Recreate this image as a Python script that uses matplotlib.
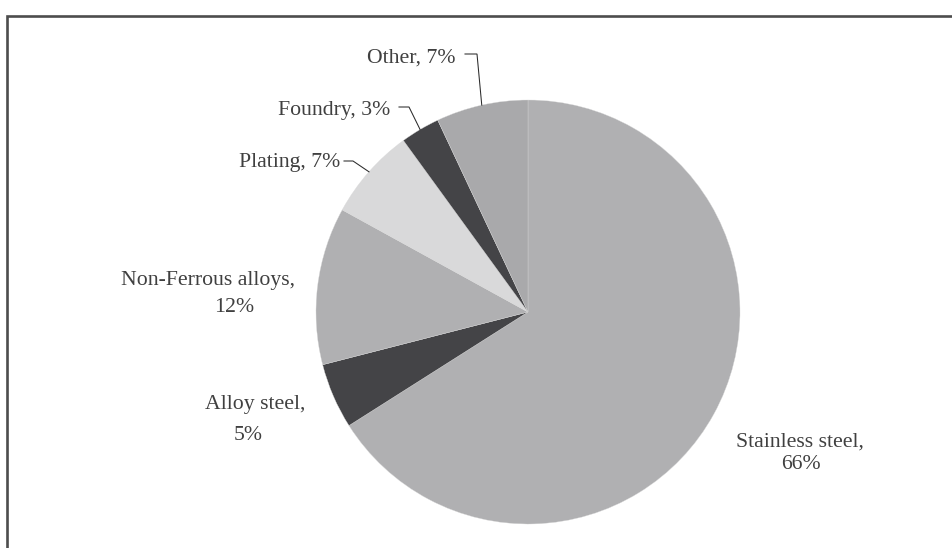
import numpy as np
import matplotlib
matplotlib.use("Agg")
import matplotlib.pyplot as plt
from matplotlib.lines import Line2D

# Share of consumption by end use (percent)
categories = ["Stainless steel", "Alloy steel", "Non-Ferrous alloys", "Plating", "Foundry", "Other"]
shares = [66, 5, 12, 7, 3, 7]
colors = ["#b0b0b2", "#444447", "#b0b0b2", "#d9d9da", "#444447", "#a9a9ab"]

W, H, DPI = 953, 548, 100
fig = plt.figure(figsize=(W / DPI, H / DPI), dpi=DPI)
fig.patch.set_facecolor("white")

# pie centre and radius in pixels
CX, CY, R = 528, 312, 212
ax = fig.add_axes([(CX - R) / W, (H - CY - R) / H, 2 * R / W, 2 * R / H])

wedges, _ = ax.pie(shares, colors=colors, startangle=90, counterclock=False,
                   radius=1, wedgeprops=dict(edgecolor="#d8d8d8", linewidth=0.25))
ax.set_xlim(-1, 1)
ax.set_ylim(-1, 1)
ax.set_aspect("equal")
ax.axis("off")


def to_data(px, py):
    return (px - CX) / R, (CY - py) / R


font = dict(family="Liberation Serif", size=15.7, color="#404040")

# label lines: (text, centre x px, baseline y px)
label_lines = {
    "Stainless steel": [("Stainless steel,", 800, 447), ("66%", 801, 469)],
    "Alloy steel": [("Alloy steel,", 255, 409), ("5%", 248, 440)],
    "Non-Ferrous alloys": [("Non-Ferrous alloys,", 208, 285), ("12%", 234, 312)],
    "Plating": [("Plating, 7%", 290, 167)],
    "Foundry": [("Foundry, 3%", 334, 115)],
    "Other": [("Other, 7%", 411, 63)],
}
for name, share in zip(categories, shares):
    for txt, px, py in label_lines[name]:
        x, y = to_data(px, py)
        ax.text(x, y, txt, ha="center", va="baseline", clip_on=False, **font)

# leader lines: horizontal stub (x0, x1, y px), then to the wedge mid-edge
leaders = {"Plating": (344, 353, 161), "Foundry": (399, 409, 107), "Other": (465, 477, 54)}
for w, name in zip(wedges, categories):
    if name not in leaders:
        continue
    x0, x1, yp = leaders[name]
    mid = np.deg2rad((w.theta1 + w.theta2) / 2)
    ex, ey = np.cos(mid), np.sin(mid)
    a0 = to_data(x0, yp)
    a1 = to_data(x1, yp)
    ax.plot([a0[0], a1[0], ex], [a0[1], a1[1], ey], color="#2a2a2a", lw=0.75,
            clip_on=False, solid_joinstyle="miter")

# outer frame (top and left edges visible; right and bottom run off the canvas)
fx = 6.5 / W
fy = 1 - 15.5 / H
fig.add_artist(Line2D([fx, fx, 1.02], [-0.02, fy, fy], transform=fig.transFigure,
                      color="#4d4d4d", lw=1.9, solid_joinstyle="miter"))

fig.savefig("out.png", dpi=DPI, facecolor="white")
